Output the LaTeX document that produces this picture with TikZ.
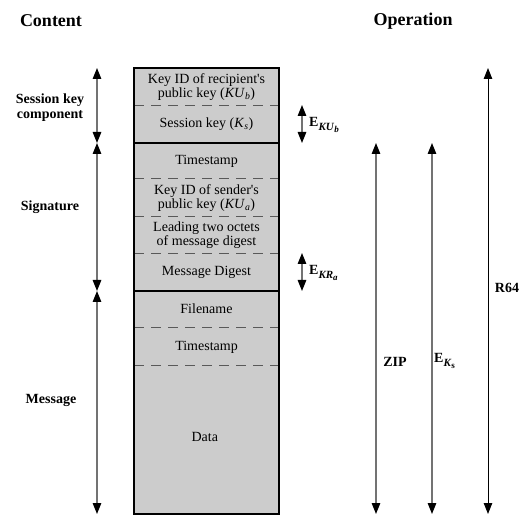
\documentclass[tikz,border=0pt]{standalone}
\usepackage{fontspec}
\setmainfont{Liberation Serif}
\usepackage{tikz}
\usetikzlibrary{arrows.meta}

\definecolor{cellgray}{gray}{0.8}
\definecolor{shaftgray}{gray}{0.45}
\definecolor{dashgray}{gray}{0.35}

\newcommand{\opsub}[2]{E\raisebox{-3.5pt}{\fontsize{11}{11}\selectfont\textit{#1}\raisebox{-2pt}{\fontsize{9}{9}\selectfont #2}}}

\tikzset{
    celltext/.style={align=center,font=\fontsize{14}{14}\selectfont,inner sep=0pt},
    headtext/.style={font=\fontsize{18}{20}\selectfont\bfseries,inner sep=0pt},
    sidetext/.style={align=center,font=\fontsize{14}{15}\selectfont\bfseries,inner sep=0pt},
    optext/.style={font=\fontsize{14}{15}\selectfont\bfseries,inner sep=0pt},
    dimarrow/.style={draw=shaftgray,line width=1.3pt,
        {Triangle[length=11pt,width=8.5pt,color=black]}-{Triangle[length=11pt,width=8.5pt,color=black]}},
    blackarrow/.style={draw=black,line width=1pt,
        {Triangle[length=11pt,width=8.5pt,color=black]}-{Triangle[length=11pt,width=8.5pt,color=black]}},
    softline/.style={draw=dashgray,line width=1pt,dash pattern=on 10pt off 7pt},
    hardline/.style={draw=black,line width=1.8pt}
}

\begin{document}
\begin{tikzpicture}[x=1pt,y=-1pt]
    \useasboundingbox (0,0) rectangle (530,518);
    \fill[cellgray] (134,68) rectangle (279,514);
    \foreach \n/\y/\l in{
    1/87/{Key ID of recipient\textquotesingle s\\public key (\textit{KU}\textsubscript{\textit{b}})},
    2/124/{Session key (\textit{K}\textsubscript{\textit{s}})},
    3/161/{Timestamp},
    4/198/{Key ID of sender\textquotesingle s\\public key (\textit{KU}\textsubscript{\textit{a}})},
    5/235/{Leading two octets\\of message digest},
    6/272/{Message Digest},
    7/309/{Filename},
    8/347/{Timestamp},
    9/437/{Data}
    }
    {
            \node[celltext] (c\n) at (206.5,\y) {\l};
        }
    \foreach \y in {106,179,217,254,328,366}
    {
            \draw[softline] (134,\y) -- (279,\y);
        }
    \foreach \y in {143,291}
    {
            \draw[hardline] (134,\y) -- (279,\y);
        }
    \draw[hardline] (134,68) rectangle (279,514);

    \node[headtext] (content) at (51,21) {Content};
    \node[headtext] (operation) at (413,21) {Operation};
    \node[sidetext] (session) at (50,108) {Session key\\component};
    \node[sidetext] (signature) at (50,207) {Signature};
    \node[sidetext] (message) at (51,400) {Message};

    \foreach \n/\x/\y in{
    sk1/97/68, sk2/97/143, sg1/97/143, sg2/97/291, ms1/97/291, ms2/97/514,
    eb1/302/105, eb2/302/143, ea1/302/253, ea2/302/291,
    zp1/376/143, zp2/376/514, ek1/432/143, ek2/432/514,
    rs1/488/68, rs2/488/514
    }
    {
            \coordinate (\n) at (\x,\y);
        }
    \draw[dimarrow] (sk1) -- (sk2);
    \draw[dimarrow] (sg1) -- (sg2);
    \draw[dimarrow] (ms1) -- (ms2);
    \draw[dimarrow] (eb1) -- (eb2);
    \draw[dimarrow] (ea1) -- (ea2);
    \draw[dimarrow] (zp1) -- (zp2);
    \draw[dimarrow] (ek1) -- (ek2);
    \draw[blackarrow] (rs1) -- (rs2);

    \node[optext,anchor=west] (ekub) at (309,125) {\opsub{KU}{\textit{b}}};
    \node[optext,anchor=west] (ekra) at (309,273) {\opsub{KR}{\textit{a}}};
    \node[optext] (zip) at (395,362) {ZIP};
    \node[optext,anchor=west] (eks) at (434,361) {\opsub{K}{s}};
    \node[optext] (r64) at (507,288) {R64};
\end{tikzpicture}
\end{document}
